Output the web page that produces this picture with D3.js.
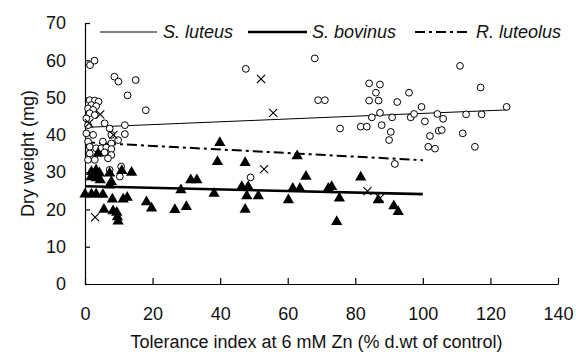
<!DOCTYPE html>
<html>
<head>
<meta charset="utf-8">
<script src="https://cdn.jsdelivr.net/npm/d3@7"></script>
<style>
  body { margin: 0; background: #fff; }
  svg { display: block; font-family: "Liberation Sans", Arial, sans-serif; }
</style>
</head>
<body>
<div id="chart"></div>
<script>
// S. luteus (open circles)
const luteusPts = [
  [1.5,58.7],[2.8,59.9],[8.7,55.6],[9.9,54.3],[15,54.7],[12.6,50.6],[18,46.6],[11.8,42.6],[11.8,40.2],
  [1.4,49.3],[2.9,49.2],[4.0,48.9],[1.9,48],[3.3,47.7],[0.9,47.1],[2.4,46.7],[1.4,45.8],[2.9,45.3],
  [0.4,44.4],[5.8,43.1],[0.9,42.6],[7.3,41.7],[0.4,40.4],[2.4,40],[7.8,40],[9.8,38.6],[0.9,38.2],
  [5.3,38.2],[7.8,37.7],[1.4,36.8],[3.3,36.4],[4.8,36.4],[6.3,36.6],[7.8,36.2],[1.4,35],[5.8,35.3],
  [7.8,34.6],[0.9,33.3],[2.9,33.3],[6.8,33.7],[7.3,30.6],[10.7,31.5],[10.3,28.8],
  [49,28.6],[47.6,57.7],[68,60.5],[69,49.3],[71,49.3],
  [84.1,53.8],[87.3,53.5],[86.1,51.3],[84.1,49.2],[86.9,49.2],[92.4,48.8],[95.9,51.3],[99.6,47.5],
  [87.3,45.9],[84.9,44.7],[90.9,44.7],[96.4,44.7],[97.4,45.6],[104.3,45.6],[106,44.3],[75.5,41.7],
  [81.6,42.2],[83.4,42.2],[87.8,42.6],[100.6,43.6],[90.5,40.8],[90,38.6],[102.1,39.7],[104.7,41.1],
  [101.6,36.8],[103.6,36.3],[91.7,32.2],[111,58.5],[117.1,52.7],[124.8,47.5],[117.4,45.5],[112.8,45.5],
  [105.6,41.3],[111.8,40.4],[115.4,36.8]
];
// S. bovinus (filled triangles)
const bovinusPts = [
  [3.9,35],[1.9,30.1],[3.3,30.6],[4.3,29.7],[1.8,28.7],[3.3,28.4],[4.5,27.9],[7.3,29.7],[10.9,30.4],
  [13.8,29.9],[7.8,27.4],[7.3,26.5],[0,24.1],[1.9,24.1],[3.3,24.1],[5.3,24],[8.1,22.7],[11.3,22.7],
  [12.5,23.2],[18.2,22],[19.7,20.3],[5.6,20],[8.3,19.6],[9.4,19.2],[9.6,18],[9.8,16.8],[26.6,19.9],
  [30,20.7],[28.4,25.2],[31.3,27.9],[33.1,27.9],[39.9,37.9],[39.2,32.8],[47.4,32.5],[38.2,24.3],
  [46.4,26.1],[48.3,26.1],[47.9,23.6],[51.3,23.6],[47.4,20],[61.5,25.6],[63.6,25.6],[65.4,28.8],
  [60.2,22.5],[62.8,34.3],[72,25.6],[73,26.1],[75.3,23],[74.5,16.7],[81.6,28.6],[86.8,22.5],
  [91.4,20.9],[92.7,19.4]
];
// R. luteolus (crosses)
const luteolusPts = [
  [3,17.9],[4.5,45.5],[1.2,43.1],[8.4,40],[52.1,55],[55.7,45.9],[53,30.8],[83.6,24.9],[87.3,23]
];
// fitted trend lines
const luteusFit = [[0,42],[125,46.7]];
const bovinusFit = [[0,26.2],[100,24.1]];
const luteolusFit = [[0,38],[100,33.2]];

const xTicks = [0,20,40,60,80,100,120,140];
const yTicks = [0,10,20,30,40,50,60,70];
const legendNames = ["S. luteus", "S. bovinus", "R. luteolus"];

const W = 576, H = 359;
const margin = { top: 23, right: 18, bottom: 75, left: 85 };
const width = W - margin.left - margin.right;
const height = H - margin.top - margin.bottom;

const svg = d3.select("#chart").append("svg").attr("width", W).attr("height", H);
svg.append("rect").attr("width", W).attr("height", H).attr("fill", "#fff");

const g = svg.append("g").attr("transform", `translate(${margin.left},${margin.top})`);

const x = d3.scaleLinear().domain([0, 140]).range([0, width]);
const y = d3.scaleLinear().domain([0, 70]).range([height, 0]);

// axes, ticks pointing inward
const xAxis = g.append("g").attr("transform", `translate(0,${height})`)
  .call(d3.axisBottom(x).tickValues(xTicks).tickSize(-6).tickSizeOuter(0).tickPadding(23));
const yAxis = g.append("g")
  .call(d3.axisLeft(y).tickValues(yTicks).tickSize(-5).tickSizeOuter(0).tickPadding(19));

[xAxis, yAxis].forEach(a => {
  a.select(".domain").attr("stroke", "#000").attr("stroke-width", 1.2);
  a.selectAll(".tick line").attr("stroke", "#000").attr("stroke-width", 1.2);
  a.selectAll("text").attr("font-size", 18).attr("fill", "#111")
    .attr("font-family", "Liberation Sans, Arial, sans-serif");
});

// trend lines
const line = d3.line().x(d => x(d[0])).y(d => y(d[1]));
g.append("path").datum(luteusFit).attr("d", line)
  .attr("fill", "none").attr("stroke", "#000").attr("stroke-width", 1);
g.append("path").datum(bovinusFit).attr("d", line)
  .attr("fill", "none").attr("stroke", "#000").attr("stroke-width", 2.6);
g.append("path").datum(luteolusFit).attr("d", line)
  .attr("fill", "none").attr("stroke", "#000").attr("stroke-width", 2)
  .attr("stroke-dasharray", "10,4,3,4");

// points
g.append("g").selectAll("circle").data(luteusPts).join("circle")
  .attr("cx", d => x(d[0])).attr("cy", d => y(d[1])).attr("r", 3.4)
  .attr("fill", "#fff").attr("stroke", "#000").attr("stroke-width", 1);

const tri = d3.symbol().type(d3.symbolTriangle).size(55);
g.append("g").selectAll("path").data(bovinusPts).join("path")
  .attr("d", tri)
  .attr("transform", d => `translate(${x(d[0])},${y(d[1])})`)
  .attr("fill", "#000");

const cross = d3.symbol().type(d3.symbolX).size(45);
g.append("g").selectAll("path").data(luteolusPts).join("path")
  .attr("d", cross)
  .attr("transform", d => `translate(${x(d[0])},${y(d[1])})`)
  .attr("fill", "none").attr("stroke", "#000").attr("stroke-width", 1.1);

// legend
const legend = svg.append("g").attr("font-size", 18).attr("font-style", "italic").attr("fill", "#111");
const legendItems = [
  { x1: 100, x2: 157, tx: 163, w: 1, dash: null },
  { x1: 248, x2: 307, tx: 312, w: 2.6, dash: null },
  { x1: 415, x2: 470, tx: 476, w: 2, dash: "10,4,3,4" }
];
legendItems.forEach((it, i) => {
  legend.append("line").attr("x1", it.x1).attr("x2", it.x2).attr("y1", 32).attr("y2", 32)
    .attr("stroke", "#000").attr("stroke-width", it.w).attr("stroke-dasharray", it.dash);
  legend.append("text").attr("x", it.tx).attr("y", 32).attr("dy", "0.35em").text(legendNames[i]);
});

// axis titles
svg.append("text").attr("x", margin.left + width / 2 - 5).attr("y", 342).attr("dy", "0.35em")
  .attr("text-anchor", "middle").attr("font-size", 18).attr("fill", "#111")
  .text("Tolerance index at 6 mM Zn (% d.wt of control)");
svg.append("text")
  .attr("transform", `translate(28,${margin.top + height / 2}) rotate(-90)`)
  .attr("dy", "0.35em").attr("text-anchor", "middle").attr("font-size", 18).attr("fill", "#111")
  .text("Dry weight (mg)");
</script>
</body>
</html>
